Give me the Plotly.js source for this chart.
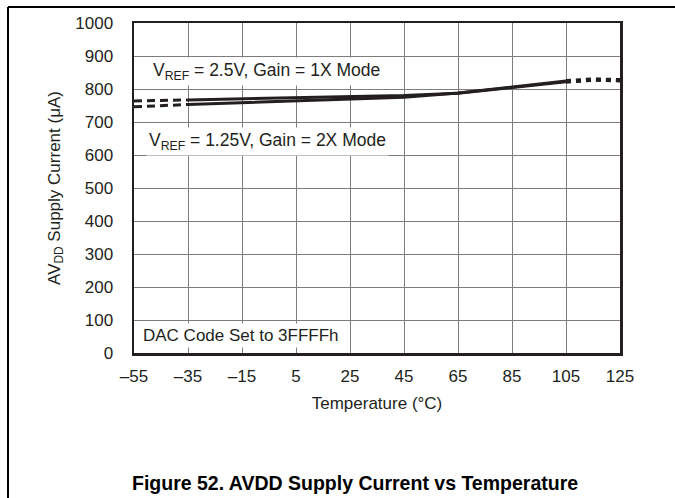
<!DOCTYPE html>
<html>
<head>
<meta charset="utf-8">
<script src="https://cdn.plot.ly/plotly-3.0.1.min.js"></script>
<style>
html,body{margin:0;padding:0;background:#fff;}
#chart{width:675px;height:498px;}
</style>
</head>
<body>
<div id="chart"></div>
<script>
// ---- data ----
const tempSolid = [-35, -15, 5, 25, 45, 65, 85, 105];
const gain1xSolid = [767, 770, 773, 776, 780, 787, 804, 822];   // VREF = 2.5V, Gain = 1X
const gain2xSolid = [753, 758, 763, 768, 775, 788, 806, 824];   // VREF = 1.25V, Gain = 2X

const tempLow = [-55, -35];
const gain1xLow = [764, 767];
const gain2xLow = [746, 753];

const tempHigh = [105, 115, 125];
const gain1xHigh = [822, 828, 826];
const gain2xHigh = [824, 829, 827];

const xTickVals = [-55, -35, -15, 5, 25, 45, 65, 85, 105, 125];
const xTickText = ['–55', '–35', '–15', '5', '25', '45', '65', '85', '105', '125'];
const yTickVals = [0, 100, 200, 300, 400, 500, 600, 700, 800, 900, 1000];

const ink = '#231f20';
const font = 'Liberation Sans, Arial, Helvetica, sans-serif';
const fs = 17;
const fa = 17.5;

function tr(x, y, dash, w) {
  return {x: x, y: y, type: 'scatter', mode: 'lines',
          line: {color: ink, width: w, dash: dash}, hoverinfo: 'skip', showlegend: false};
}

const traces = [
  tr(tempLow, gain1xLow, '8px,5px', 3),
  tr(tempLow, gain2xLow, '8px,5px', 3),
  tr(tempSolid, gain1xSolid, 'solid', 3),
  tr(tempSolid, gain2xSolid, 'solid', 3),
  tr(tempHigh, gain1xHigh, '5px,5px', 4),
  tr(tempHigh, gain2xHigh, '5px,5px', 4)
];

// plot area in px: left 134, right 620, top 23, bottom 353
const L = 134, R = 620, T = 23, B = 353, W = 675, H = 498;
const px = v => (v - L) / (R - L);
const py = v => (B - v) / (B - T);

const layout = {
  width: W, height: H,
  margin: {l: L, r: W - R, t: T, b: H - B, pad: 0},
  paper_bgcolor: '#fff', plot_bgcolor: '#fff',
  font: {family: font, size: fs, color: ink},
  showlegend: false,
  xaxis: {
    range: [-55, 125], tickvals: xTickVals, ticktext: xTickText,
    showgrid: true, gridcolor: '#7d7d7d', gridwidth: 1,
    showline: true, linecolor: ink, linewidth: 2.5, mirror: true,
    ticks: '', zeroline: false, ticklabelstandoff: 6,
    tickfont: {family: font, size: fs, color: ink},
    title: {text: 'Temperature (°C)', standoff: 12, font: {family: font, size: fs, color: ink}}
  },
  yaxis: {
    range: [0, 1000], tickvals: yTickVals,
    showgrid: true, gridcolor: '#7d7d7d', gridwidth: 1,
    showline: true, linecolor: ink, linewidth: 2.5, mirror: true,
    ticks: '', zeroline: false, ticklabelstandoff: 15,
    tickfont: {family: font, size: fs, color: ink},
    title: {text: 'AV<sub>DD</sub> Supply Current (μA)', standoff: 11, font: {family: font, size: fs, color: ink}}
  },
  annotations: [
    {xref: 'paper', yref: 'y', x: px(150), y: 853, xanchor: 'left', yanchor: 'middle',
     text: 'V<sub>REF</sub> = 2.5V, Gain = 1X Mode', showarrow: false, bgcolor: '#fff', borderpad: 2,
     font: {family: font, size: fa, color: ink}},
    {xref: 'paper', yref: 'y', x: px(146), y: 640, xanchor: 'left', yanchor: 'middle',
     text: 'V<sub>REF</sub> = 1.25V, Gain = 2X Mode', showarrow: false, bgcolor: '#fff', borderpad: 2,
     font: {family: font, size: fa, color: ink}},
    {xref: 'paper', yref: 'y', x: px(140), y: 52, xanchor: 'left', yanchor: 'middle',
     text: 'DAC Code Set to 3FFFFh', showarrow: false, bgcolor: '#fff', borderpad: 2,
     font: {family: font, size: fs, color: ink}},
    {xref: 'paper', yref: 'paper', x: px(355), y: py(483), xanchor: 'center', yanchor: 'middle',
     text: '<b>Figure 52. AVDD Supply Current vs Temperature</b>', showarrow: false,
     font: {family: font, size: 19.5, color: '#000'}}
  ],
  shapes: [
    {type: 'line', xref: 'paper', yref: 'paper', x0: px(8), x1: px(676), y0: py(7), y1: py(7),
     line: {color: '#000', width: 2}},
    {type: 'line', xref: 'paper', yref: 'paper', x0: px(8), x1: px(8), y0: py(7), y1: py(499),
     line: {color: '#000', width: 2}}
  ]
};

Plotly.newPlot('chart', traces, layout, {displayModeBar: false, staticPlot: true});
</script>
</body>
</html>
